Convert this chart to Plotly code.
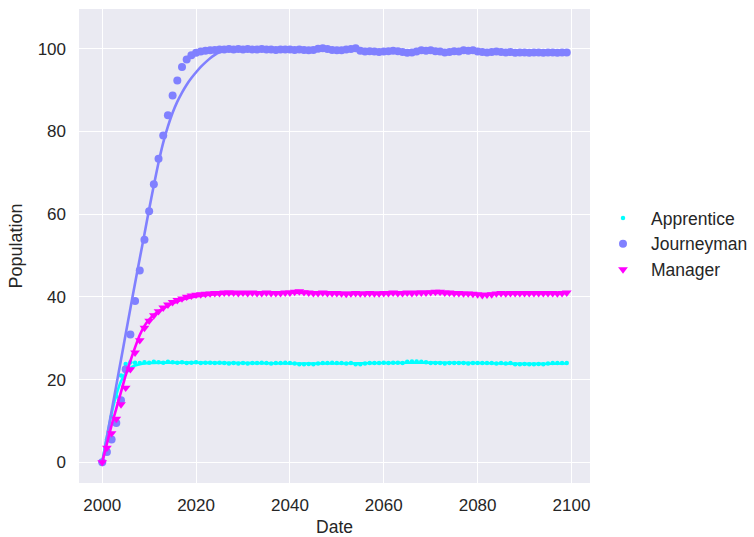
import plotly.graph_objects as go

years = list(range(2000, 2100))

apprentice = [
    0, 5.5, 11, 16, 21, 23.8, 24.2, 24.1, 24.0, 24.2,
    24.1, 24.3, 24.2, 24.1, 24.3, 24.2, 24.1, 24.2, 24.0, 24.1,
    24.2, 24.0, 24.1, 24.1, 24.0, 24.1, 24.0, 23.9, 24.0, 23.9,
    24.0, 23.9, 24.0, 24.0, 24.1, 24.0, 23.9, 24.0, 24.0, 24.1,
    24.0, 23.9, 23.7, 23.7, 23.8, 23.7, 23.9, 24.0, 24.0, 24.1,
    24.0, 24.0, 23.9, 24.0, 23.7, 23.7, 23.9, 24.0, 24.0, 24.0,
    24.1, 24.0, 24.1, 24.1, 24.0, 24.3, 24.4, 24.4, 24.3, 24.2,
    24.0, 24.0, 24.0, 23.9, 24.0, 24.0, 24.0, 24.0, 23.9, 24.0,
    24.0, 24.0, 24.0, 24.0, 23.9, 24.0, 23.9, 24.0, 23.7, 23.7,
    23.8, 23.7, 23.7, 23.8, 23.7, 23.9, 24.0, 24.0, 24.0, 24.0,
]

journeyman = [
    0, 2.5, 5.5, 9.5, 15, 22.5, 30.9, 39.0, 46.4, 53.8,
    60.7, 67.2, 73.4, 79.0, 83.9, 88.7, 92.3, 95.6, 97.4, 98.4,
    99.0, 99.3, 99.5, 99.6, 99.7, 99.8, 99.8, 99.9, 99.8, 99.9,
    99.8, 99.9, 99.8, 99.8, 99.9, 99.8, 99.8, 99.7, 99.8, 99.8,
    99.8, 99.7, 99.8, 99.7, 99.6, 99.7, 100.0, 100.1, 99.9, 99.7,
    99.6, 99.6, 99.8, 99.9, 100.1, 99.5, 99.3, 99.4, 99.3, 99.2,
    99.3, 99.4, 99.5, 99.4, 99.2, 99.0, 99.1, 99.3, 99.6, 99.5,
    99.6, 99.4, 99.3, 99.1, 99.2, 99.4, 99.3, 99.6, 99.5, 99.6,
    99.3, 99.2, 99.1, 99.2, 99.3, 99.2, 99.1, 99.2, 99.0, 99.1,
    99.1, 99.0, 99.1, 99.1, 99.0, 99.1, 99.1, 99.0, 99.1, 99.1,
]

manager = [
    0, 3.5, 7, 10.5, 14, 18, 22.5, 26.5, 29.5, 32.5,
    34.2, 35.5, 36.5, 37.4, 38.1, 38.7, 39.2, 39.6, 40.0, 40.3,
    40.5, 40.6, 40.7, 40.8, 40.9, 40.9, 41.0, 41.0, 41.0, 40.9,
    41.0, 40.9, 41.0, 40.9, 40.9, 41.0, 40.9, 40.9, 40.9, 41.0,
    41.0, 41.2, 41.3, 41.1, 41.0, 40.9, 40.9, 41.0, 40.9, 40.9,
    40.9, 40.8, 40.7, 40.8, 40.9, 40.8, 40.8, 40.9, 40.8, 40.8,
    40.9, 40.9, 41.0, 40.9, 40.9, 41.0, 40.9, 41.0, 41.0, 41.0,
    41.1, 41.2, 41.2, 41.0, 41.0, 40.9, 40.9, 40.8, 40.8, 40.7,
    40.6, 40.4, 40.5, 40.6, 40.8, 40.9, 40.8, 40.9, 40.9, 40.9,
    40.9, 40.9, 40.9, 40.9, 40.9, 40.9, 40.9, 40.8, 40.9, 41.0,
]

# fitted curves
fit_years_a = [2000, 2001, 2002, 2003, 2004, 2005, 2006, 2007, 2008, 2009, 2010, 2012,
               2020, 2030, 2040, 2050, 2060, 2070, 2080, 2090, 2099]
fit_apprentice = [0, 6.2, 11.8, 16.3, 19.6, 21.6, 22.8, 23.4, 23.7, 23.9, 24.0, 24.1,
                  24.1, 24.0, 23.9, 23.9, 24.0, 24.1, 24.0, 23.8, 23.9]

fit_years_j = [2000, 2001, 2002, 2003, 2004, 2005, 2006, 2007, 2008, 2009, 2010,
               2011, 2012, 2013, 2014, 2015, 2016, 2017, 2018, 2019, 2020,
               2021, 2022, 2023, 2024, 2025, 2026, 2027, 2028, 2030, 2040,
               2050, 2060, 2070, 2080, 2090, 2099]
fit_journeyman = [0, 6.2, 12.4, 18.6, 24.8, 31.0, 37.2, 43.3, 49.3, 55.2, 61.2,
                  67.0, 72.5, 77.3, 81.2, 84.5, 87.2, 89.4, 91.3, 92.9, 94.3,
                  95.6, 96.7, 97.7, 98.5, 99.1, 99.5, 99.7, 99.8, 99.8, 99.8,
                  99.7, 99.3, 99.4, 99.3, 99.1, 99.1]

fit_years_m = [2000, 2001, 2002, 2003, 2004, 2005, 2006, 2007, 2008, 2009, 2010,
               2011, 2012, 2013, 2014, 2015, 2016, 2017, 2018, 2019, 2020,
               2022, 2024, 2026, 2030, 2040, 2050, 2060, 2070, 2080, 2090, 2099]
fit_manager = [0, 4.5, 9.0, 13.0, 17.0, 21.0, 24.5, 27.8, 30.8, 33.0, 34.5,
               35.6, 36.5, 37.2, 37.9, 38.4, 38.9, 39.3, 39.6, 39.9, 40.1,
               40.4, 40.6, 40.8, 40.9, 41.0, 40.9, 40.9, 41.0, 40.7, 40.9, 40.9]

names = ["Apprentice", "Journeyman", "Manager"]
colors = ["#00FFFF", "#8080FF", "#FF00FF"]
symbols = ["circle", "circle", "triangle-down"]
sizes = [4.5, 8, 8.5]

points = [apprentice, journeyman, manager]
fits = [(fit_years_a, fit_apprentice), (fit_years_j, fit_journeyman), (fit_years_m, fit_manager)]

font_family = "Liberation Sans, Arial, sans-serif"
text_color = "#262626"

fig = go.Figure()
for name, col, sym, sz, pts, (fx, fy) in zip(names, colors, symbols, sizes, points, fits):
    fig.add_trace(go.Scatter(
        x=years, y=pts, mode="markers", name=name,
        marker=dict(color=col, symbol=sym, size=sz, opacity=1.0, line=dict(width=0)),
    ))
    fig.add_trace(go.Scatter(
        x=fx, y=fy, mode="lines", showlegend=False, hoverinfo="skip",
        line=dict(color=col, width=2.6, shape="spline", smoothing=0.6),
    ))

fig.update_layout(
    width=754, height=537,
    margin=dict(l=79, r=164, t=9, b=54),
    paper_bgcolor="white",
    plot_bgcolor="#EAEAF2",
    font=dict(family=font_family, size=17, color=text_color),
    legend=dict(
        xref="container", yref="container",
        x=595 / 754, y=(537 - 244) / 537, xanchor="left", yanchor="middle",
        bgcolor="rgba(0,0,0,0)", font=dict(size=17.5),
        tracegroupgap=0, itemsizing="trace", itemwidth=46,
    ),
    xaxis=dict(
        title=dict(text="Date", font=dict(size=17.5), standoff=6),
        range=[1995.05, 2103.95],
        tickvals=[2000, 2020, 2040, 2060, 2080, 2100],
        showgrid=True, gridcolor="white", gridwidth=1.4,
        zeroline=False, showline=False, ticks="", ticklabelstandoff=10,
        automargin=False,
    ),
    yaxis=dict(
        title=dict(text="Population", font=dict(size=18), standoff=10),
        range=[-5.0, 109.6],
        tickvals=[0, 20, 40, 60, 80, 100],
        showgrid=True, gridcolor="white", gridwidth=1.4,
        zeroline=False, showline=False, ticks="", ticklabelstandoff=12,
        automargin=False,
    ),
)

fig.write_html("out.html")
